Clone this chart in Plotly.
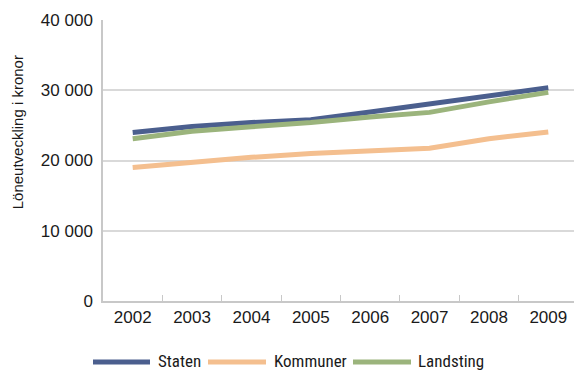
import plotly.graph_objects as go

years = ["2002", "2003", "2004", "2005", "2006", "2007", "2008", "2009"]
staten = [24000, 24850, 25400, 25800, 26900, 28050, 29150, 30350]
kommuner = [19000, 19750, 20450, 21000, 21450, 21750, 23100, 24050]
landsting = [23100, 24150, 24800, 25400, 26200, 26850, 28350, 29700]
series_names = ["Staten", "Kommuner", "Landsting"]
y_ticks = [0, 10000, 20000, 30000, 40000]
y_tick_labels = ["0", "10 000", "20 000", "30 000", "40 000"]

colors = {"Staten": "#4b5f8e", "Kommuner": "#f4bf8f", "Landsting": "#9bb47c"}

fig = go.Figure()
for name, vals in zip(series_names, [staten, kommuner, landsting]):
    fig.add_trace(go.Scatter(
        x=years, y=vals, name=name, mode="lines",
        line=dict(color=colors[name], width=5),
    ))

# plot area geometry (pixels) used to place the legend keys below the chart
L, T, B, W = 103, 19.5, 71, 574
PW, PH = W - L, 372 - T - B

def px_x(x):
    return (x - L) / PW

def px_y(y):
    return (372 - B - y) / PH

legend_pos = [(93, 150, 156), (208, 266, 272), (353, 411, 416)]
shapes = []
annotations = []
for name, (x0, x1, xt) in zip(series_names, legend_pos):
    shapes.append(dict(
        type="line", xref="paper", yref="paper",
        x0=px_x(x0), x1=px_x(x1), y0=px_y(362), y1=px_y(362),
        line=dict(color=colors[name], width=5),
    ))
    annotations.append(dict(
        text=name, xref="paper", yref="paper", x=px_x(xt), y=px_y(361),
        xanchor="left", yanchor="middle", showarrow=False,
        font=dict(family="Roboto Condensed, DejaVu Sans Condensed, sans-serif", size=17, color="#1a1a1a"),
    ))

annotations.append(dict(
    text="Löneutveckling i kronor", textangle=-90,
    xref="paper", yref="paper", x=px_x(17), y=px_y(132),
    xanchor="center", yanchor="middle", showarrow=False,
    font=dict(size=15, color="#1a1a1a"),
))

fig.update_layout(
    width=574, height=372,
    margin=dict(l=L, r=0, t=T, b=B, autoexpand=False),
    paper_bgcolor="white", plot_bgcolor="white",
    font=dict(family="Liberation Sans, Arial, sans-serif", size=17, color="#1a1a1a"),
    showlegend=False,
    xaxis=dict(
        type="category", range=[-0.5, 7.433],
        tickson="boundaries", ticks="inside", ticklen=6, tickcolor="#c8c8c8",
        showline=True, linecolor="#c8c8c8", linewidth=1.5,
        showgrid=False, tickfont=dict(size=17),
    ),
    yaxis=dict(
        range=[0, 40000], tickvals=y_ticks, ticktext=y_tick_labels,
        showgrid=True, gridcolor="#d9d9d9", gridwidth=1.5,
        showline=True, linecolor="#c8c8c8", linewidth=1.5,
        zeroline=False, ticks="", tickfont=dict(size=17),
        ticklabelstandoff=5,
    ),
    shapes=shapes,
    annotations=annotations,
)

fig.write_html(
    "out.html",
    config={"displayModeBar": False},
    post_script="document.body.style.margin='0';document.body.style.overflow='hidden';",
)
